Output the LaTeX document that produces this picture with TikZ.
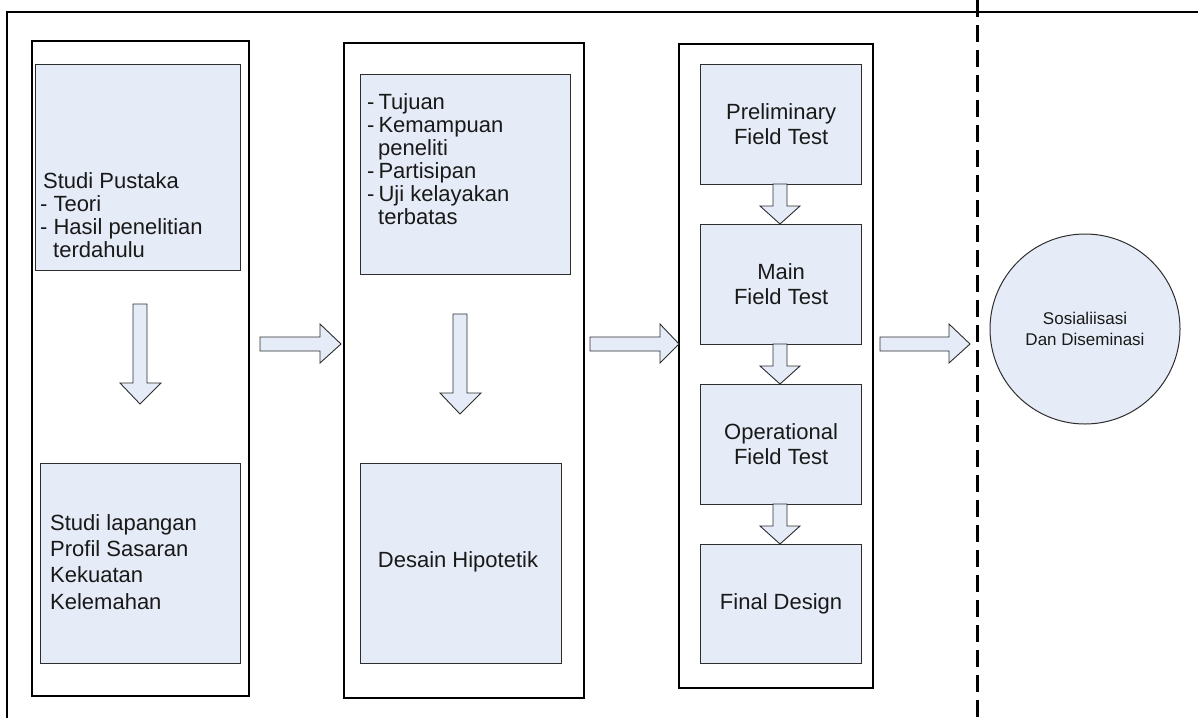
\documentclass[tikz,border=0pt]{standalone}
\usepackage{fontspec}
\setmainfont{Liberation Sans}
\definecolor{fillc}{RGB}{229,236,247}
\definecolor{edge}{RGB}{45,45,45}
\definecolor{txtc}{RGB}{25,25,25}
\begin{document}
\begin{tikzpicture}[x=1pt,y=-1pt,
  colbox/.style={draw=black,line width=2pt,inner sep=0,anchor=north west},
  inbox/.style={draw=edge,fill=fillc,line width=1.2pt,inner sep=0,anchor=north west},
  blk/.style={draw=edge,fill=fillc,line width=0.9pt,line join=miter},
  txt/.style={inner sep=0,text=txtc,font=\fontsize{22}{23}\selectfont,align=left,anchor=north west},
  ctxt/.style={inner sep=0,text=txtc,font=\fontsize{22}{25}\selectfont,align=center},
  bigcircle/.style={circle,draw=edge,fill=fillc,line width=1pt,minimum size=190pt,inner sep=0}]
\useasboundingbox (0,0) rectangle (1198,718);
% outer frame
\draw[line width=2pt] (7,718) -- (7,12) -- (1198,12);
% divider
\draw[line width=3pt,dash pattern=on 17pt off 8pt] (977,0) -- (977,718);

% columns
\node[colbox,minimum width=217pt,minimum height=655pt] (col1) at (31,40) {};
\node[colbox,minimum width=240pt,minimum height=655pt] (col2) at (343,42) {};
\node[colbox,minimum width=194pt,minimum height=644pt] (col3) at (678,43) {};

% column 1
\node[inbox,minimum width=205pt,minimum height=206pt] (a1) at (35,64) {};
\node[inbox,minimum width=200pt,minimum height=200pt] (a2) at (40,463) {};
\node[txt] (ta1) at (40,172) {\hspace*{3pt}Studi Pustaka\\-\hspace{6pt}Teori\\-\hspace{6pt}Hasil penelitian\\\hspace*{13pt}terdahulu};
\node[txt,font=\fontsize{22}{26.3}\selectfont] (ta2) at (50,514) {Studi lapangan\\Profil Sasaran\\Kekuatan\\Kelemahan};

% column 2
\node[inbox,minimum width=210pt,minimum height=200pt] (b1) at (360,74) {};
\node[inbox,minimum width=201pt,minimum height=200pt] (b2) at (360,463) {};
\node[txt] (tb1) at (367,93) {-\hspace{4pt}Tujuan\\-\hspace{4pt}Kemampuan\\\hspace*{11pt}peneliti\\-\hspace{4pt}Partisipan\\-\hspace{4pt}Uji kelayakan\\\hspace*{11pt}terbatas};
\node[ctxt] (tb2) at (458,562) {Desain Hipotetik};

% column 3
\node[inbox,minimum width=161pt,minimum height=120pt] (c1) at (700,64) {};
\node[inbox,minimum width=161pt,minimum height=120pt] (c2) at (700,224) {};
\node[inbox,minimum width=161pt,minimum height=120pt] (c3) at (700,384) {};
\node[inbox,minimum width=161pt,minimum height=119pt] (c4) at (700,544) {};
\node[ctxt] (tc1) at (c1.center) {Preliminary\\Field Test};
\node[ctxt] (tc2) at (c2.center) {Main\\Field Test};
\node[ctxt] (tc3) at (c3.center) {Operational\\Field Test};
\node[ctxt] (tc4) at (c4.center) {Final Design};

% circle
\node[bigcircle] (d) at (1085,329) {};
\node[inner sep=0,text=txtc,font=\fontsize{17}{21}\selectfont,align=center] (td) at (1085,329) {Sosialiisasi\\Dan Diseminasi};

% vertical block arrows
\filldraw[blk] (133,304) -- (147,304) -- (147,383) -- (161,383) -- (140,404) -- (120,383) -- (133,383) -- cycle;
\filldraw[blk] (453,314) -- (467,314) -- (467,393) -- (481,393) -- (460,414) -- (440,393) -- (453,393) -- cycle;
\filldraw[blk] (773,184) -- (787,184) -- (787,206) -- (800,206) -- (780,224) -- (760,206) -- (773,206) -- cycle;
\filldraw[blk] (773,344) -- (787,344) -- (787,366) -- (800,366) -- (780,384) -- (760,366) -- (773,366) -- cycle;
\filldraw[blk] (773,504) -- (787,504) -- (787,526) -- (800,526) -- (780,544) -- (760,526) -- (773,526) -- cycle;

% horizontal block arrows
\filldraw[blk] (260,337) -- (320,337) -- (320,324) -- (341,344) -- (320,363) -- (320,351) -- (260,351) -- cycle;
\filldraw[blk] (590,337) -- (660,337) -- (660,324) -- (679,344) -- (660,363) -- (660,351) -- (590,351) -- cycle;
\filldraw[blk] (880,337) -- (949,337) -- (949,324) -- (970,344) -- (949,363) -- (949,351) -- (880,351) -- cycle;
\end{tikzpicture}
\end{document}
